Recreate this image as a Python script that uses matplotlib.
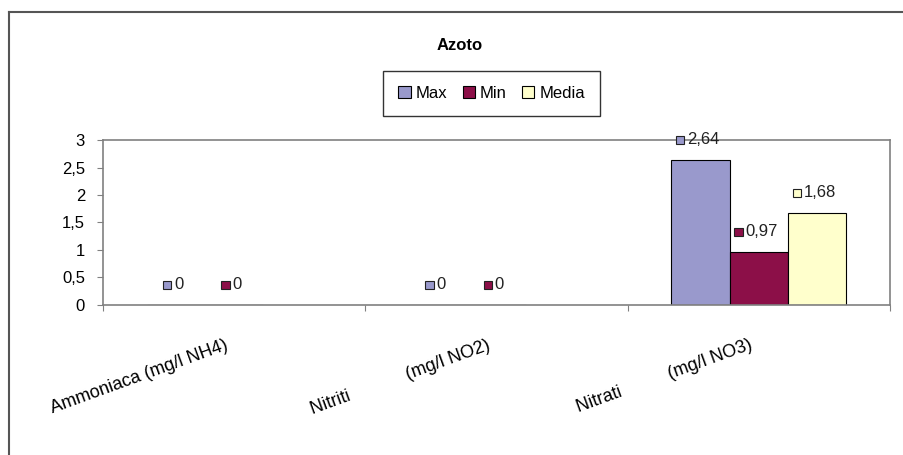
import matplotlib.pyplot as plt
import numpy as np
from matplotlib.lines import Line2D
from matplotlib.offsetbox import AnnotationBbox, DrawingArea, HPacker, TextArea
from matplotlib.patches import Rectangle
from matplotlib.transforms import ScaledTranslation

plt.rcParams["font.family"] = ["Liberation Sans", "DejaVu Sans"]
plt.rcParams["font.size"] = 12

# data
categories = [
    "Ammoniaca (mg/l NH4)",
    "Nitriti" + " " * 12 + "(mg/l NO2)",
    "Nitrati" + " " * 10 + "(mg/l NO3)",
]
series = ["Max", "Min", "Media"]
max_vals = [0, 0, 2.64]
min_vals = [0, 0, 0.97]
media_vals = [None, None, 1.68]
colors = ["#9999CC", "#8C0F48", "#FFFFCC"]
yticks = [0, 0.5, 1, 1.5, 2, 2.5, 3]


def fmt(v):
    return f"{v:g}".replace(".", ",")


fig = plt.figure(figsize=(9.04, 4.55), dpi=100)
ax = fig.add_axes([0.114, 0.3297, 0.8705, 0.3626])

x = np.arange(len(categories))
w = 1 / 4.5
for i, (name, vals) in enumerate(zip(series, [max_vals, min_vals, media_vals])):
    xs = x + (i - 1) * w
    hs = [np.nan if v is None else v for v in vals]
    ax.bar(xs, hs, width=w, color=colors[i], edgecolor="black", linewidth=0.8, label=name)
    for xi, v in zip(xs, vals):
        if v is None:
            continue
        da = DrawingArea(6.5, 6.5, 0, 0)
        da.add_artist(Rectangle((0, 0), 6, 6, facecolor=colors[i], edgecolor="#222222", lw=0.8))
        ta = TextArea(fmt(v), textprops=dict(fontsize=12, color="#222222"))
        box = HPacker(children=[da, ta], align="center", pad=0, sep=1.5)
        ab = AnnotationBbox(box, (xi, v), xybox=(-2, 14.5), xycoords="data",
                            boxcoords="offset points", frameon=False, pad=0,
                            annotation_clip=False)
        ax.add_artist(ab)

ax.set_xlim(-0.5, len(categories) - 0.5)
ax.set_ylim(0, 3)
ax.set_yticks(yticks)
ax.set_yticklabels([fmt(t) for t in yticks])
ax.tick_params(axis="y", length=4, width=0.8, color="#808080", pad=9, labelsize=12)

ax.set_xticks(x)
ax.set_xticklabels(categories, rotation=20, ha="right", va="top",
                   rotation_mode="anchor", fontsize=13)
ax.tick_params(axis="x", which="major", length=0, pad=23)
ax.set_xticks(np.arange(len(categories) + 1) - 0.5, minor=True)
ax.tick_params(axis="x", which="minor", length=4, width=0.8, color="#808080")
for lab in ax.get_xticklabels():
    lab.set_transform(lab.get_transform() + ScaledTranslation(-10 / 100, 0, fig.dpi_scale_trans))

for sp in ax.spines.values():
    sp.set_color("#808080")
    sp.set_linewidth(1.2)

fig.text(0.508, 0.901, "Azoto", ha="center", va="center", fontsize=12, fontweight="bold")
leg = ax.legend(loc="center", bbox_to_anchor=(0.544, 0.7945), bbox_transform=fig.transFigure,
                ncol=3, frameon=True, fancybox=False, edgecolor="black",
                handlelength=0.75, handleheight=0.75, handletextpad=0.3,
                columnspacing=0.9, borderpad=0.9, fontsize=12)
leg.get_frame().set_linewidth(1.0)

# outer chart frame (left and top edges visible)
fig.add_artist(Line2D([9 / 904, 9 / 904], [0, 1 - 12 / 455], transform=fig.transFigure,
                      color="#555555", lw=1.5))
fig.add_artist(Line2D([9 / 904, 1], [1 - 12 / 455, 1 - 12 / 455], transform=fig.transFigure,
                      color="#555555", lw=1.5))

fig.savefig("out.png", dpi=100)
